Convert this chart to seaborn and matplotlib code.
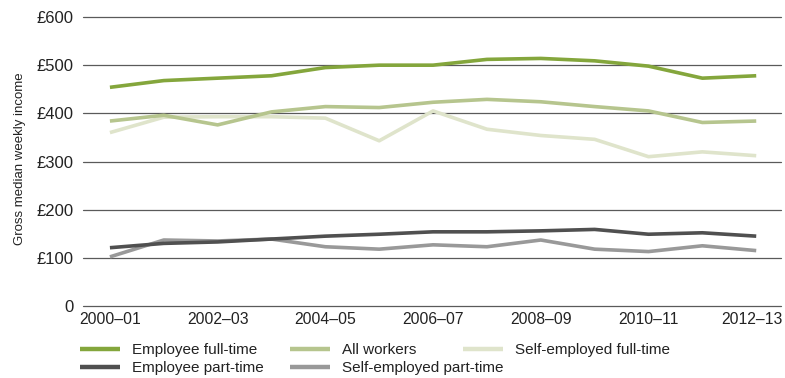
import matplotlib
matplotlib.use("Agg")
import matplotlib.pyplot as plt
import matplotlib.transforms as mtransforms
import seaborn as sns
import pandas as pd
from matplotlib.lines import Line2D

# Financial years
periods = ["2000–01", "2001–02", "2002–03", "2003–04", "2004–05", "2005–06",
           "2006–07", "2007–08", "2008–09", "2009–10", "2010–11", "2011–12",
           "2012–13"]

# Gross median weekly income (£) by working pattern
employee_full_time = [454, 468, 473, 478, 495, 500, 500, 512, 514, 509, 498, 473, 478]
all_workers = [384, 396, 376, 403, 414, 412, 423, 429, 424, 414, 405, 381, 384]
self_employed_full_time = [360, 392, 393, 393, 390, 343, 405, 367, 354, 346, 310, 320, 312]
employee_part_time = [121, 130, 133, 139, 145, 149, 154, 154, 156, 159, 149, 152, 145]
self_employed_part_time = [102, 137, 135, 139, 123, 118, 127, 123, 137, 118, 113, 125, 115]

series_names = ["Employee full-time", "All workers", "Self-employed full-time",
                "Employee part-time", "Self-employed part-time"]
series_values = [employee_full_time, all_workers, self_employed_full_time,
                 employee_part_time, self_employed_part_time]
colors = {
    "Employee full-time": "#84a63c",
    "All workers": "#b6c58e",
    "Self-employed full-time": "#dfe4cb",
    "Employee part-time": "#505050",
    "Self-employed part-time": "#999999",
}

y_ticks = [0, 100, 200, 300, 400, 500, 600]
y_tick_labels = ["0", "£100", "£200", "£300", "£400", "£500", "£600"]
x_tick_idx = [0, 2, 4, 6, 8, 10, 12]

rows = []
for name, vals in zip(series_names, series_values):
    for i, v in enumerate(vals):
        rows.append({"idx": i, "period": periods[i], "series": name, "income": v})
df = pd.DataFrame(rows)

sns.set_theme(style="white")
plt.rcParams["font.family"] = ["Liberation Sans", "DejaVu Sans"]
text_color = "#222222"

fig = plt.figure(figsize=(7.85, 3.78), dpi=100)
ax = fig.add_axes([83 / 785, 1 - 306 / 378, (781 - 83) / 785, (306 - 17) / 378])

# Draw lighter/part-time series first so the main series sit on top
draw_order = ["Self-employed part-time", "Employee part-time",
              "Self-employed full-time", "All workers", "Employee full-time"]
sns.lineplot(data=df, x="idx", y="income", hue="series", hue_order=draw_order,
             palette=colors, linewidth=2.6, legend=False, sort=False, ax=ax,
             zorder=3)
for ln in ax.get_lines():
    ln.set_solid_capstyle("butt")

# Horizontal reference lines
for yv in y_ticks:
    ax.axhline(yv, color="#5a5a5a", linewidth=0.9, zorder=1, clip_on=False)

ax.set_xlim(-0.5, 12.46)
ax.set_ylim(0, 600)
ax.set_xticks(x_tick_idx)
ax.set_xticklabels([periods[i] for i in x_tick_idx])
ax.set_yticks(y_ticks)
ax.set_yticklabels(y_tick_labels)
ax.tick_params(axis="both", length=0, colors=text_color)
ax.tick_params(axis="x", pad=4, labelsize=11.3)
ax.tick_params(axis="y", pad=7, labelsize=12)
ax.set_xlabel("")
ax.set_ylabel("Gross median weekly income", fontsize=9.5, color=text_color)
ax.yaxis.set_label_coords(-0.081, 0.51)
for sp in ax.spines.values():
    sp.set_visible(False)

# Keep the last period label inside the figure edge
last_label = ax.get_xticklabels()[-1]
last_label.set_transform(last_label.get_transform() +
                         mtransforms.ScaledTranslation(-4 / 100, 0, fig.dpi_scale_trans))

# Legend entries laid out in two rows
legend_pos = {
    "Employee full-time": (80, 350),
    "All workers": (290, 350),
    "Self-employed full-time": (463, 350),
    "Employee part-time": (80, 368),
    "Self-employed part-time": (290, 368),
}
for name in series_names:
    x, y = legend_pos[name]
    h = Line2D([], [], color=colors[name], linewidth=3.2, solid_capstyle="butt")
    fig.legend(handles=[h], labels=[name], loc="center left",
               bbox_to_anchor=(x / 785, 1 - y / 378), frameon=False,
               borderpad=0, borderaxespad=0, handlelength=2.6,
               handletextpad=0.8, fontsize=11, labelcolor=text_color)

fig.savefig("out.png", dpi=100)
